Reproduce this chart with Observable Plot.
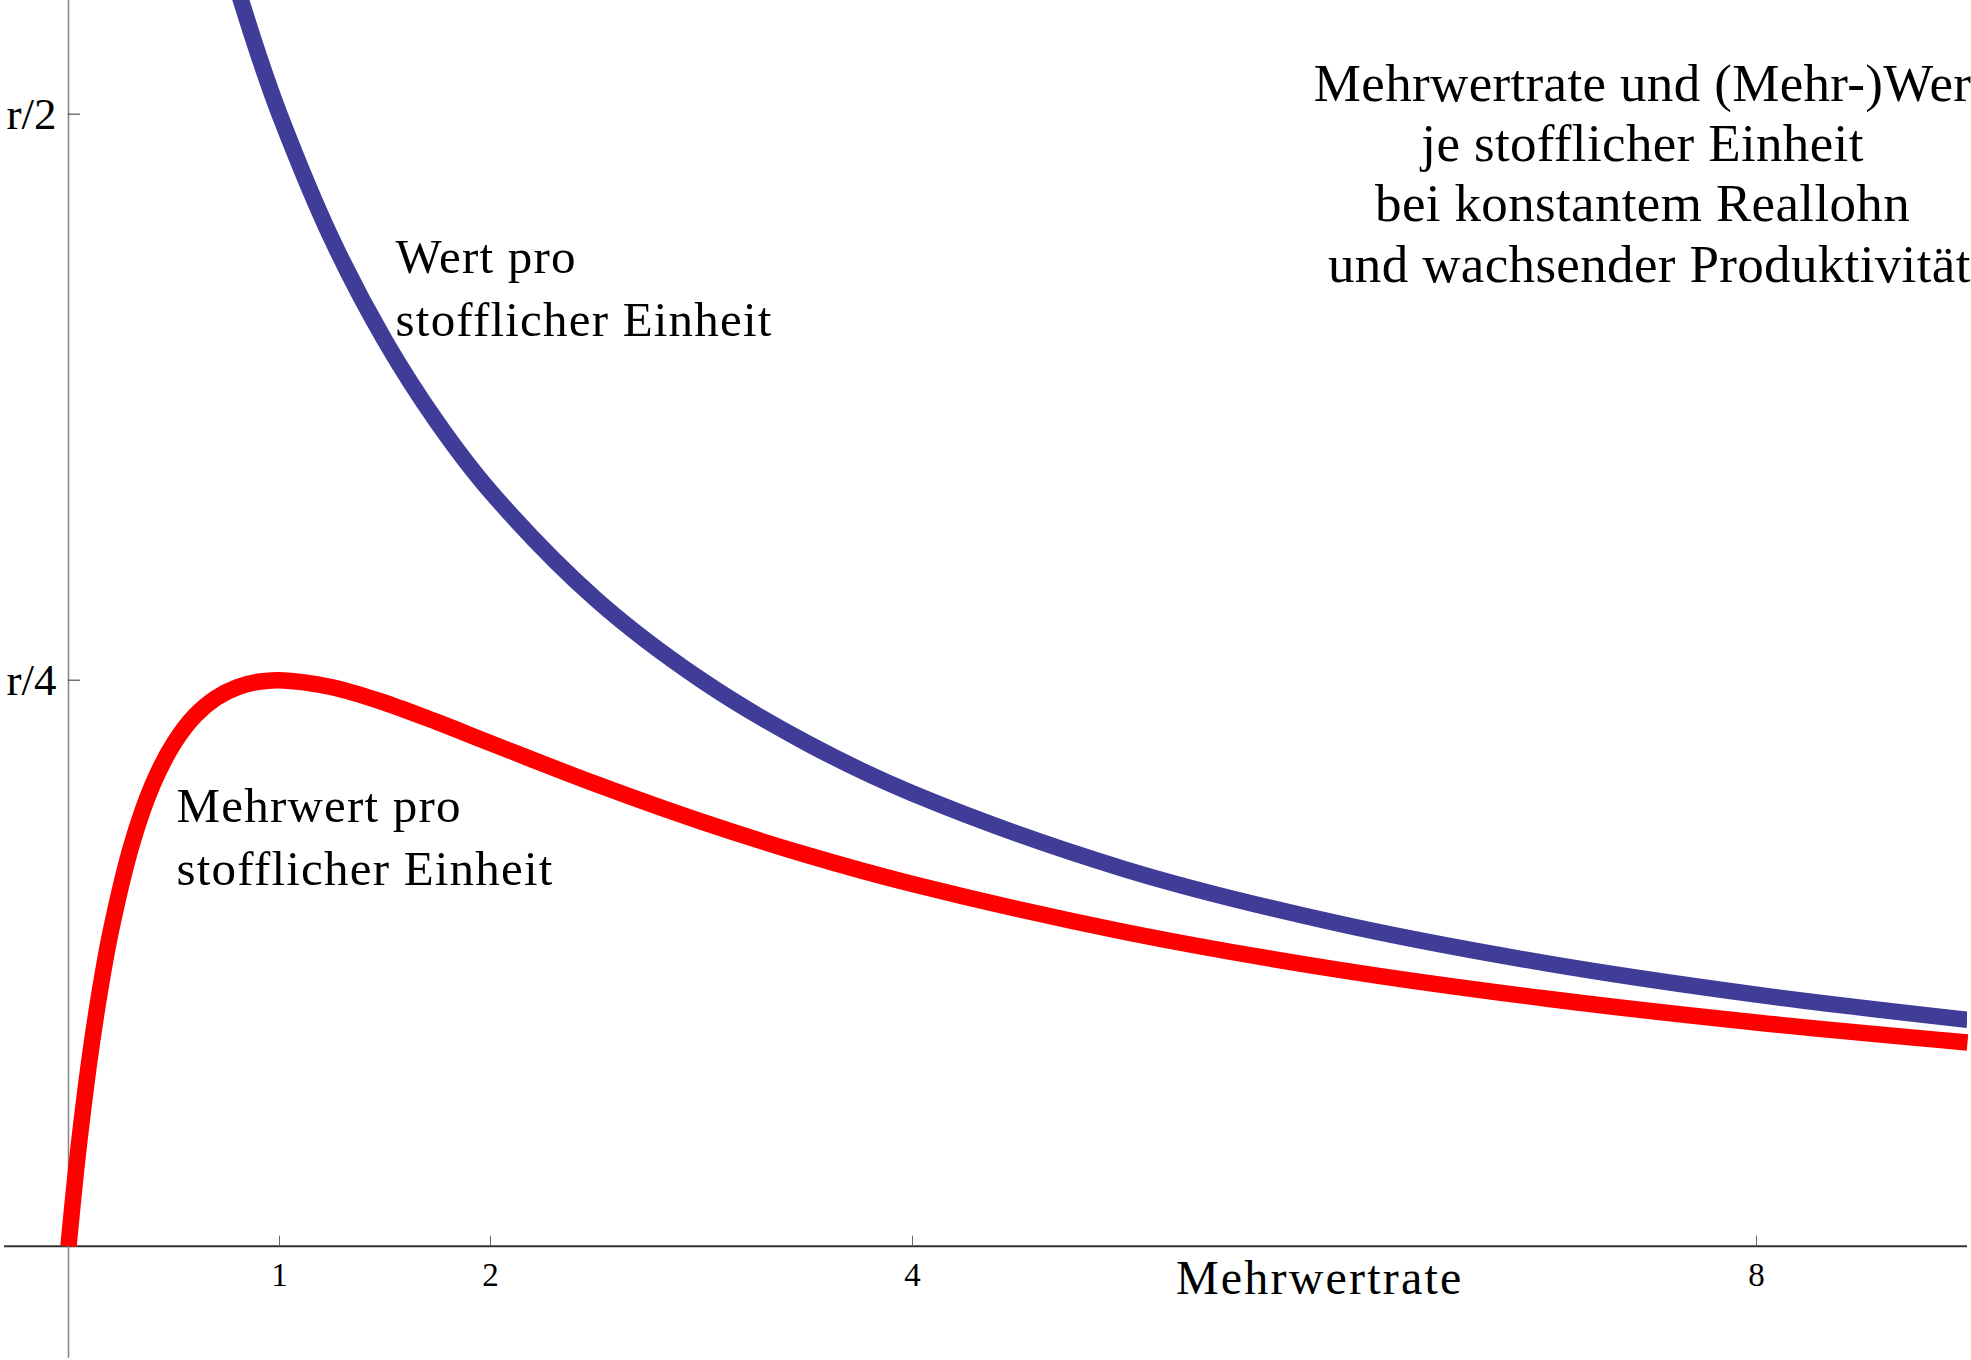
<!DOCTYPE html>
<html>
<head>
<meta charset="utf-8">
<script src="https://cdn.jsdelivr.net/npm/d3@7"></script>
<script src="https://cdn.jsdelivr.net/npm/@observablehq/plot@0.6"></script>
<style>
  html, body { margin: 0; padding: 0; background: white; overflow: hidden; }
</style>
</head>
<body>
<div id="chart"></div>
<script>
// Mehrwertrate (x) and Mehrwert pro stofflicher Einheit (red), in units of r
const mehrwertRate = [0, 0.025, 0.05, 0.1, 0.15, 0.2, 0.3, 0.4, 0.5, 0.6, 0.7, 0.8, 0.9, 1.0, 1.25, 1.5, 1.75, 2, 2.5, 3, 3.5, 4, 5, 6, 7, 8, 9];
const mehrwertProEinheit = [0, 0.0238, 0.0454, 0.0826, 0.1134, 0.1389, 0.1775, 0.2041, 0.2222, 0.2344, 0.2422, 0.2469, 0.2493, 0.25, 0.2469, 0.24, 0.2314, 0.2222, 0.2041, 0.1875, 0.1728, 0.16, 0.1389, 0.1224, 0.1094, 0.0988, 0.09];

// Wert pro stofflicher Einheit (blue), in units of r
const wertRate = [0.75, 0.8, 0.9, 1, 1.25, 1.5, 1.75, 2, 2.5, 3, 3.5, 4, 5, 6, 7, 8, 9];
const wertProEinheit = [0.5714, 0.5556, 0.5263, 0.5, 0.4444, 0.4, 0.3636, 0.3333, 0.2857, 0.25, 0.2222, 0.2, 0.1667, 0.1429, 0.125, 0.1111, 0.1];

// Axis ticks
const xTicks = [1, 2, 4, 8];
const yTicks = [0.25, 0.5];
const yTickLabels = ["r/4", "r/2"];

// Texts (title as it appears in the reference, cut at the right edge)
const titleText = "Mehrwertrate und (Mehr-)Wer\nje stofflicher Einheit\nbei konstantem Reallohn\n\u00a0und wachsender Produktivität";
const wertLabel = "Wert pro\nstofflicher Einheit";
const mehrwertLabel = "Mehrwert pro\nstofflicher Einheit";
const xAxisLabel = "Mehrwertrate";

const red = mehrwertRate.map((m, i) => ({m, v: mehrwertProEinheit[i]}));
const blue = wertRate.map((m, i) => ({m, v: wertProEinheit[i]}));

const plot = Plot.plot({
  width: 1971,
  height: 1360,
  marginLeft: 68,
  marginRight: 4,
  marginTop: 0,
  marginBottom: 114.3,
  style: {fontFamily: "'Liberation Serif', 'Times New Roman', serif", background: "white", color: "black"},
  x: {domain: [0, 9]},
  y: {domain: [0, 0.5502]},
  marks: [
    // axes lines through origin
    Plot.ruleY([0], {stroke: "#333", strokeWidth: 2, insetLeft: -64}),
    Plot.ruleX([0], {stroke: "#888", strokeWidth: 1.6, insetBottom: -112}),
    Plot.axisX({ticks: xTicks, tickSize: -10, tickPadding: 26, fontSize: 33, stroke: "#666", fill: "black", label: null, tickFormat: d => String(d)}),
    Plot.axisY({ticks: yTicks, tickSize: -12, tickPadding: 24, fontSize: 45, stroke: "#333", fill: "black", label: null,
      tickFormat: d => yTickLabels[yTicks.indexOf(d)]}),
    // curves
    Plot.line(blue, {x: "m", y: "v", stroke: "#403d99", strokeWidth: 16.5, strokeLinecap: "butt", curve: "catmull-rom", clip: true}),
    Plot.line(red, {x: "m", y: "v", stroke: "#ff0000", strokeWidth: 16.5, strokeLinecap: "butt", curve: "catmull-rom"}),
    // annotations
    Plot.text([wertLabel], {x: 1.55, y: 0.4248, text: d => d, textAnchor: "start", lineAnchor: "middle", fontSize: 49, lineHeight: 1.286, fill: "black"}),
    Plot.text([mehrwertLabel], {x: 0.512, y: 0.1824, text: d => d, textAnchor: "start", lineAnchor: "middle", fontSize: 49, lineHeight: 1.286, fill: "black"}),
    Plot.text([titleText], {x: 7.46, y: 0.4745, text: d => d, textAnchor: "middle", lineAnchor: "middle", fontSize: 53, lineHeight: 1.138, fill: "black"}),
    Plot.text([xAxisLabel], {x: 5.93, y: 0, dy: 32, text: d => d, textAnchor: "middle", lineAnchor: "middle", fontSize: 48, fill: "black"})
  ]
});
// letter spacing for the texts (style only)
d3.select(plot).selectAll("text").each(function() {
  const t = this.textContent;
  let ls = null;
  if (t.startsWith("Wert pro") || t.startsWith("Mehrwert pro")) ls = "1.2px";
  else if (t === xAxisLabel) ls = "2.2px";
  else if (t.startsWith("Mehrwertrate und")) ls = "0.35px";
  if (ls) this.style.letterSpacing = ls;
});
document.getElementById("chart").appendChild(plot);
</script>
</body>
</html>
